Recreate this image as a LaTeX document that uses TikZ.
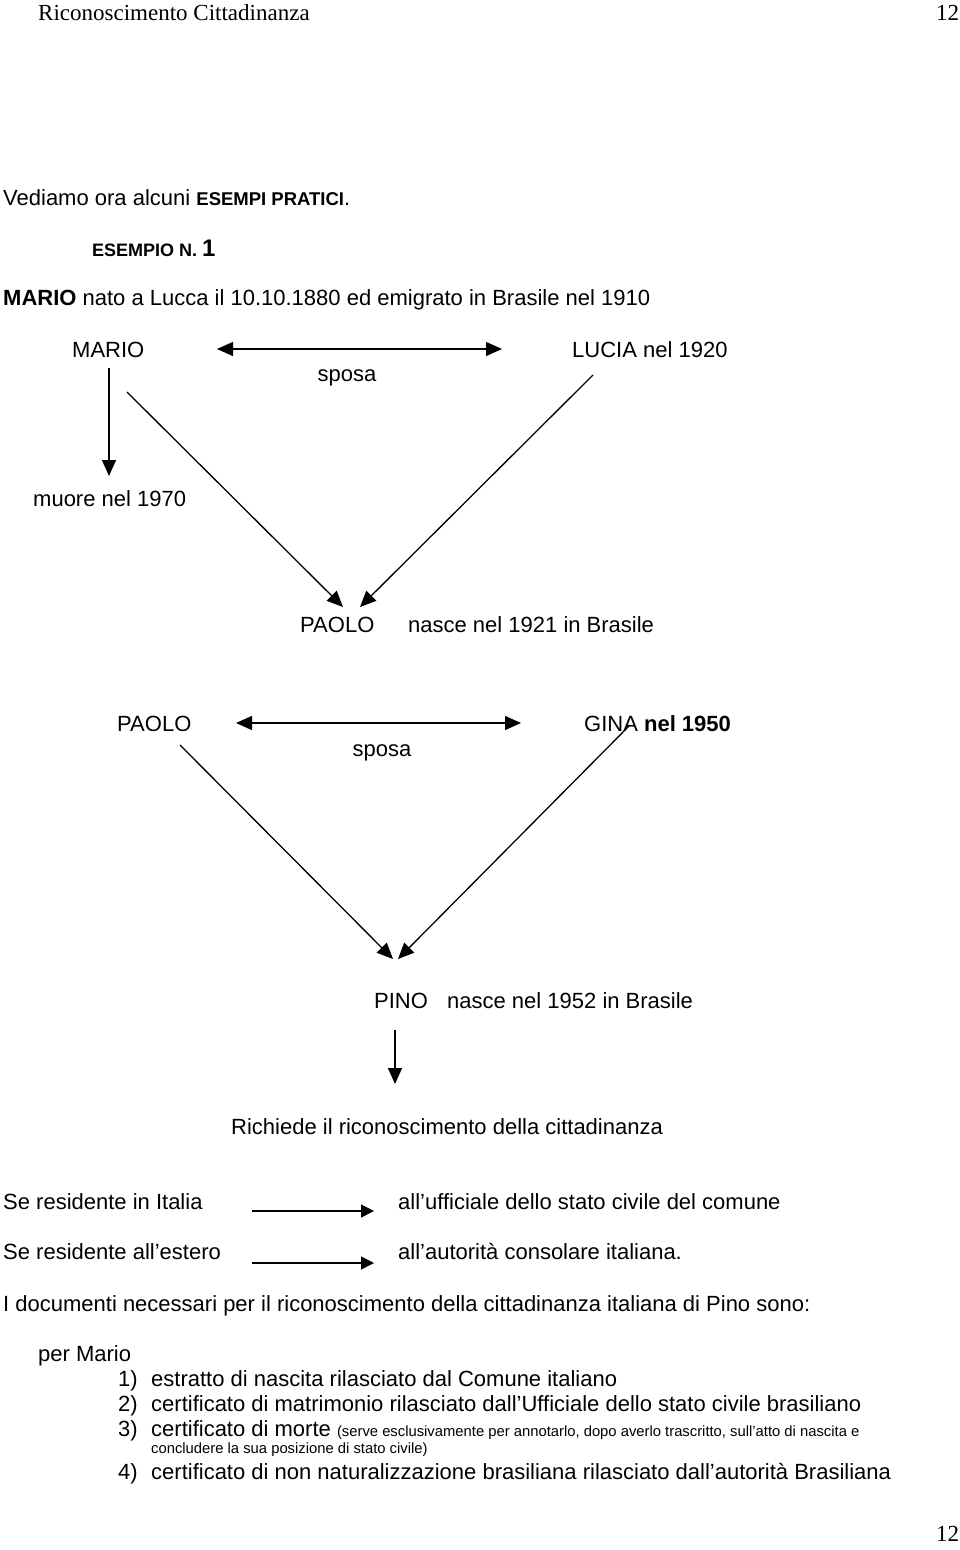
\documentclass[tikz,border=0pt]{standalone}
\usepackage{fontspec}
\setmainfont{Liberation Sans}
\newfontfamily\timesf{Liberation Serif}
\usetikzlibrary{arrows.meta}
\begin{document}
\begin{tikzpicture}[x=1pt,y=-1pt,
  txt/.style={anchor=base west, inner sep=0pt, font=\fontsize{22}{26}\selectfont},
  ctxt/.style={anchor=base, inner sep=0pt, font=\fontsize{22}{26}\selectfont},
  hdr/.style={anchor=base west, inner sep=0pt, font=\timesf\fontsize{23}{27}\selectfont},
  conn/.style={line width=1.3pt},
  onetip/.style={conn, -{Triangle[length=16pt,width=14pt]}},
  twotip/.style={conn, {Triangle[length=16pt,width=14pt]}-{Triangle[length=16pt,width=14pt]}},
  smalltip/.style={conn, -{Triangle[length=13pt,width=13pt]}},
]
\useasboundingbox[fill=white] (0,0) rectangle (960,1550);

% header / footer
\node[hdr] (hd) at (38,20) {Riconoscimento Cittadinanza};
\node[hdr] (hn) at (936,20) {12};
\node[hdr] (fn) at (936,1541) {12};

% intro
\node[txt] (intro) at (3,205) {Vediamo ora alcuni {\fontsize{18.5}{20}\selectfont\bfseries ESEMPI PRATICI}.};
\node[txt] (es) at (92,256) {{\fontsize{18}{20}\selectfont\bfseries ESEMPIO N. }{\fontsize{24}{26}\selectfont\textbf{1}}};
\node[txt] (mn) at (3,305) {\textbf{MARIO} nato a Lucca il 10.10.1880 ed emigrato in Brasile nel 1910};

% first family
\node[txt] (mario) at (72,357) {MARIO};
\node[txt] (lucia) at (572,357) {LUCIA nel 1920};
\node[ctxt] (sp1) at (347,381) {sposa};
\node[txt] (muore) at (33,506) {muore nel 1970};
\node[txt] (paolo1) at (300,632) {PAOLO};
\node[txt] (pn) at (408,632) {nasce nel 1921 in Brasile};

\coordinate (a1l) at (217,349);
\coordinate (a1r) at (502,349);
\draw[twotip] (a1l) -- (a1r);
\coordinate (m1) at (109,368);
\coordinate (m2) at (109,476);
\draw[onetip] (m1) -- (m2);
\coordinate (d1s) at (127,392);
\coordinate (d1e) at (343,607);
\draw[onetip] (d1s) -- (d1e);
\coordinate (d2s) at (593,375);
\coordinate (d2e) at (360,607);
\draw[onetip] (d2s) -- (d2e);

% second family
\node[txt] (paolo2) at (117,731) {PAOLO};
\node[txt] (gina) at (584,731) {GINA \textbf{nel 1950}};
\node[ctxt] (sp2) at (382,756) {sposa};
\node[txt] (pino) at (374,1008) {PINO};
\node[txt] (pinon) at (447,1008) {nasce nel 1952 in Brasile};

\coordinate (a2l) at (236,723);
\coordinate (a2r) at (521,723);
\draw[twotip] (a2l) -- (a2r);
\coordinate (e1s) at (180,745);
\coordinate (e1e) at (393,959);
\draw[onetip] (e1s) -- (e1e);
\coordinate (e2s) at (630,725);
\coordinate (e2e) at (398,959);
\draw[onetip] (e2s) -- (e2e);
\coordinate (p1) at (395,1030);
\coordinate (p2) at (395,1084);
\draw[onetip] (p1) -- (p2);

\node[txt] (rich) at (231,1134) {Richiede il riconoscimento della cittadinanza};

% residence
\node[txt] (ri) at (3,1209) {Se residente in Italia};
\node[txt] (re) at (3,1259) {Se residente all’estero};
\node[txt] (uf) at (398,1209) {all’ufficiale dello stato civile del comune};
\node[txt] (au) at (398,1259) {all’autorità consolare italiana.};
\coordinate (r1s) at (252,1211);
\coordinate (r1e) at (374,1211);
\draw[smalltip] (r1s) -- (r1e);
\coordinate (r2s) at (252,1263);
\coordinate (r2e) at (374,1263);
\draw[smalltip] (r2s) -- (r2e);

% documents
\node[txt] (doc) at (3,1311) {I documenti necessari per il riconoscimento della cittadinanza italiana di Pino sono:};
\node[txt] (pm) at (38,1361) {per Mario};
\node[txt] (n1) at (118,1386) {1)};
\node[txt] (t1) at (151,1386) {estratto di nascita rilasciato dal Comune italiano};
\node[txt] (n2) at (118,1411) {2)};
\node[txt] (t2) at (151,1411) {certificato di matrimonio rilasciato dall’Ufficiale dello stato civile brasiliano};
\node[txt] (n3) at (118,1436) {3)};
\node[txt] (t3) at (151,1436) {certificato di morte {\fontsize{14.8}{16}\selectfont(serve esclusivamente per annotarlo, dopo averlo trascritto, sull’atto di nascita e}};
\node[txt, font=\fontsize{14.8}{16}\selectfont] (t3b) at (151,1453) {concludere la sua posizione di stato civile)};
\node[txt] (n4) at (118,1479) {4)};
\node[txt] (t4) at (151,1479) {certificato di non naturalizzazione brasiliana rilasciato dall’autorità Brasiliana};
\end{tikzpicture}
\end{document}
